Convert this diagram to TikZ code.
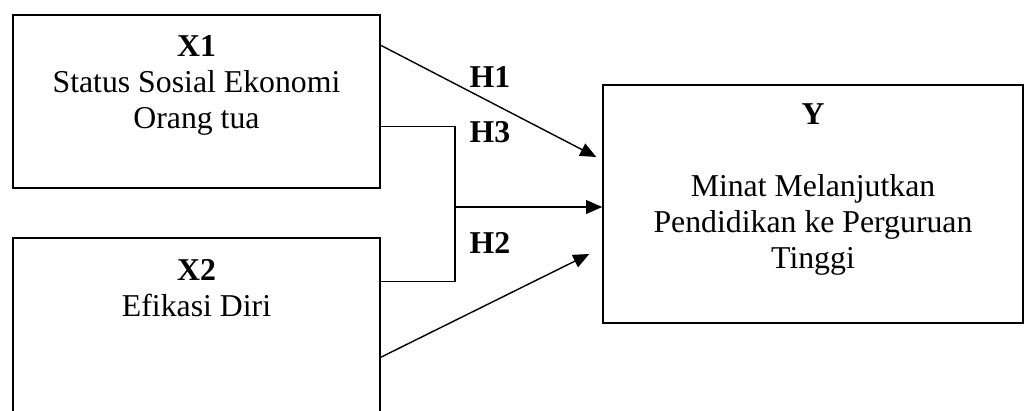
\documentclass[tikz,border=0pt]{standalone}
\usepackage{fontspec}
\setmainfont{Liberation Serif}
\usetikzlibrary{arrows.meta, calc}
\tikzset{
  varbox/.style={draw, line width=1pt, minimum width=9.175cm, minimum height=4.325cm, inner sep=0pt},
  link/.style={line width=1pt},
  arr/.style={-{Triangle[length=4mm, width=3.4mm]}, line width=1pt},
  vartext/.style={align=center, inner sep=0pt},
  hyp/.style={font=\fontsize{22.6}{25.6}\selectfont\bfseries},
  every node/.append style={font=\fontsize{22.6}{25.6}\selectfont}
}
\begin{document}
\begin{tikzpicture}[x=0.025cm, y=-0.025cm]
\clip (0,0) rectangle (1025,410);
% boxes
\node[varbox] (x1) at (196.5,101.5) {};
\node[varbox, minimum height=5cm] (x2) at (196.5,338) {};
\node[varbox, minimum width=10.5cm, minimum height=5.95cm] (y) at (813,204) {};

\node[vartext] (x1t) at (196.5,85) {\textbf{X1}\\Status Sosial Ekonomi\\Orang tua};
\node[vartext] (x2t) at (196.5,288) {\textbf{X2}\\Efikasi Diri};
\node[vartext] (yt) at (813,190) {\textbf{Y}\\[25.6pt]Minat Melanjutkan\\Pendidikan ke Perguruan\\Tinggi};

% paths
\coordinate (hj) at (455,207);
\draw[arr] ($(x1.north east)+(0,31)$) -- ($(y.west)+(-6,-47)$);
\draw[link] ($(x1.north east)+(0,112)$) -| (hj) |- ($(x2.north east)+(0,44)$);
\draw[arr] (hj) -- (hj -| y.west);
\draw[arr] ($(x2.north east)+(0,120)$) -- ($(y.west)+(-13,50)$);

\node[hyp] (h1) at (490,77) {H1};
\node[hyp] (h3) at (490,132) {H3};
\node[hyp] (h2) at (490,243) {H2};
\end{tikzpicture}
\end{document}
